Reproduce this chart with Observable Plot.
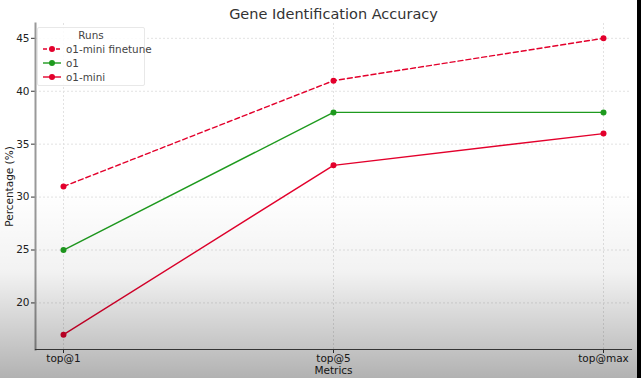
<!DOCTYPE html>
<html><head><meta charset="utf-8">
<script src="https://cdn.jsdelivr.net/npm/d3@7"></script>
<script src="https://cdn.jsdelivr.net/npm/@observablehq/plot@0.6"></script>
<style>
html,body{margin:0;padding:0;background:#fff;}
#wrap{position:relative;width:641px;height:378px;overflow:hidden;font-family:"DejaVu Sans",sans-serif;}
#legend{position:absolute;left:37px;top:27px;width:108px;height:59px;border:1px solid #e8e8e8;border-radius:2px;background:rgba(255,255,255,0.85);box-sizing:border-box;font-size:10.4px;color:#444;}
#legend .ttl{position:absolute;left:0;width:100%;top:1px;text-align:center;}
#legend .row{position:absolute;left:4px;height:12px;display:flex;align-items:center;white-space:nowrap;}
#legend .row span{margin-left:4px;}
#shade{position:absolute;left:0;top:0;width:641px;height:378px;pointer-events:none;background:linear-gradient(to bottom,rgba(0,0,0,0) 0%,rgba(0,0,0,0) 50%,rgba(0,0,0,0.05) 72%,rgba(0,0,0,0.3) 100%);}
#edge{position:absolute;right:0;top:0;width:4px;height:378px;background:#000;}
</style>
</head><body>
<div id="wrap"></div>
<script>
const metrics = ["top@1", "top@5", "top@max"];
const runs = ["o1-mini finetune", "o1", "o1-mini"];
const finetuneValues = [31, 41, 45];
const o1Values = [25, 38, 38];
const o1miniValues = [17, 33, 36];
const yTicks = [20, 25, 30, 35, 40, 45];
const colors = ["#e3002c", "#1e9a1e", "#e3002c"];
const dashes = ["5,3", null, null];

const series = [finetuneValues, o1Values, o1miniValues];
const rows = [];
series.forEach((vals, i) => vals.forEach((v, j) => rows.push({run: runs[i], metric: metrics[j], value: v})));

const yMin = 15.6, yMax = 46.4;

const marks = [
  Plot.gridY(yTicks, {stroke: "#e2e2e2", strokeOpacity: 1, strokeDasharray: "2,2"}),
  Plot.gridX(metrics, {stroke: "#e2e2e2", strokeOpacity: 1, strokeDasharray: "2,2"}),
  Plot.axisY(yTicks, {tickSize: 4, tickPadding: 2, fontSize: 10.5, fill: "#222", stroke: "#333", label: "Percentage (%)", labelAnchor: "center", labelArrow: "none", labelOffset: 30}),
  Plot.axisX(metrics, {tickSize: 4, tickPadding: 1, fontSize: 10.5, fill: "#222", stroke: "#333", label: "Metrics", labelAnchor: "center", labelArrow: "none", labelOffset: 24}),
  Plot.frame({anchor: "left", stroke: "#999", strokeWidth: 2}),
  Plot.frame({anchor: "bottom", stroke: "#444", strokeWidth: 1.2}),
];
runs.forEach((r, i) => {
  const d = rows.filter(x => x.run === r);
  marks.push(Plot.line(d, {x: "metric", y: "value", stroke: colors[i], strokeWidth: 1.4, strokeDasharray: dashes[i] || undefined}));
  marks.push(Plot.dot(d, {x: "metric", y: "value", fill: colors[i], r: 3}));
});
marks.push(Plot.text(["Gene Identification Accuracy"], {frameAnchor: "top", dy: -15, fontSize: 14.5, fill: "#333", text: d => d}));

const chart = Plot.plot({
  width: 641, height: 378,
  marginLeft: 35, marginRight: 10, marginTop: 23, marginBottom: 29,
  style: {fontFamily: "DejaVu Sans, sans-serif", background: "#fff", overflow: "visible"},
  x: {type: "point", domain: metrics, padding: 0.1},
  y: {domain: [yMin, yMax]},
  marks
});
const wrap = document.getElementById("wrap");
wrap.appendChild(chart);

const leg = document.createElement("div");
leg.id = "legend";
leg.innerHTML = '<div class="ttl">Runs</div>';
runs.forEach((r, i) => {
  const row = document.createElement("div");
  row.className = "row";
  row.style.top = (15 + i * 14) + "px";
  row.innerHTML = `<svg width="20" height="8"><line x1="1" y1="4" x2="19" y2="4" stroke="${colors[i]}" stroke-width="1.4" ${dashes[i] ? 'stroke-dasharray="4,2.5"' : ''}/><circle cx="10" cy="4" r="3" fill="${colors[i]}"/></svg><span>${r}</span>`;
  leg.appendChild(row);
});
wrap.appendChild(leg);
const shade = document.createElement("div"); shade.id = "shade"; wrap.appendChild(shade);
const edge = document.createElement("div"); edge.id = "edge"; wrap.appendChild(edge);
</script>
</body></html>
